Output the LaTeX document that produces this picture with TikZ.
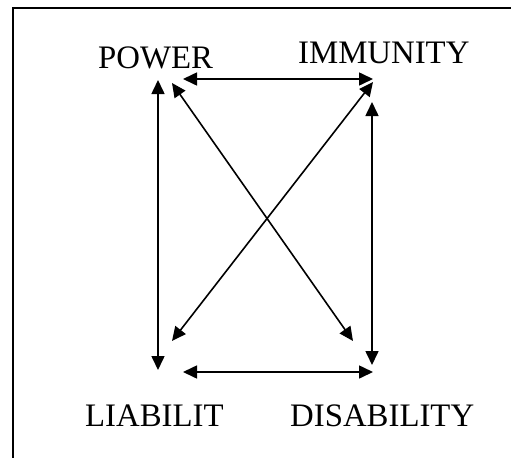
\documentclass[tikz,border=0pt]{standalone}
\usepackage{fontspec}
\setmainfont{Liberation Serif}
\usetikzlibrary{arrows.meta}
\begin{document}
\begin{tikzpicture}[x=1pt,y=-1pt,
  lbl/.style={inner sep=0pt,anchor=base west,font=\fontsize{32.8}{38}\selectfont},
  conn/.style={line width=1.6pt,{Triangle[length=14pt,width=13pt]}-{Triangle[length=14pt,width=13pt]}},
  frame/.style={line width=2.2pt}]
\useasboundingbox (0,0) rectangle (511,458);
\draw[frame] (511,8) -- (13,8) -- (13,458);
\node[lbl] (power) at (98,68) {POWER};
\node[lbl] (immunity) at (298,63) {IMMUNITY};
\node[lbl] (liability) at (85,426) {LIABILIT};
\node[lbl] (disability) at (290,426) {DISABILITY};
% arrow end points
\coordinate (pv) at (158,80);
\coordinate (lv) at (158,370);
\coordinate (iv) at (372,102);
\coordinate (dv) at (372,365);
\coordinate (ph) at (183,79);
\coordinate (ih) at (373,79);
\coordinate (lh) at (183,372);
\coordinate (dh) at (373,372);
\coordinate (pd) at (172,83);
\coordinate (dd) at (353,341);
\coordinate (id) at (373,82);
\coordinate (ld) at (172,341);
\draw[conn] (pv) -- (lv);
\draw[conn] (iv) -- (dv);
\draw[conn] (ph) -- (ih);
\draw[conn] (lh) -- (dh);
\draw[conn] (pd) -- (dd);
\draw[conn] (id) -- (ld);
\end{tikzpicture}
\end{document}
